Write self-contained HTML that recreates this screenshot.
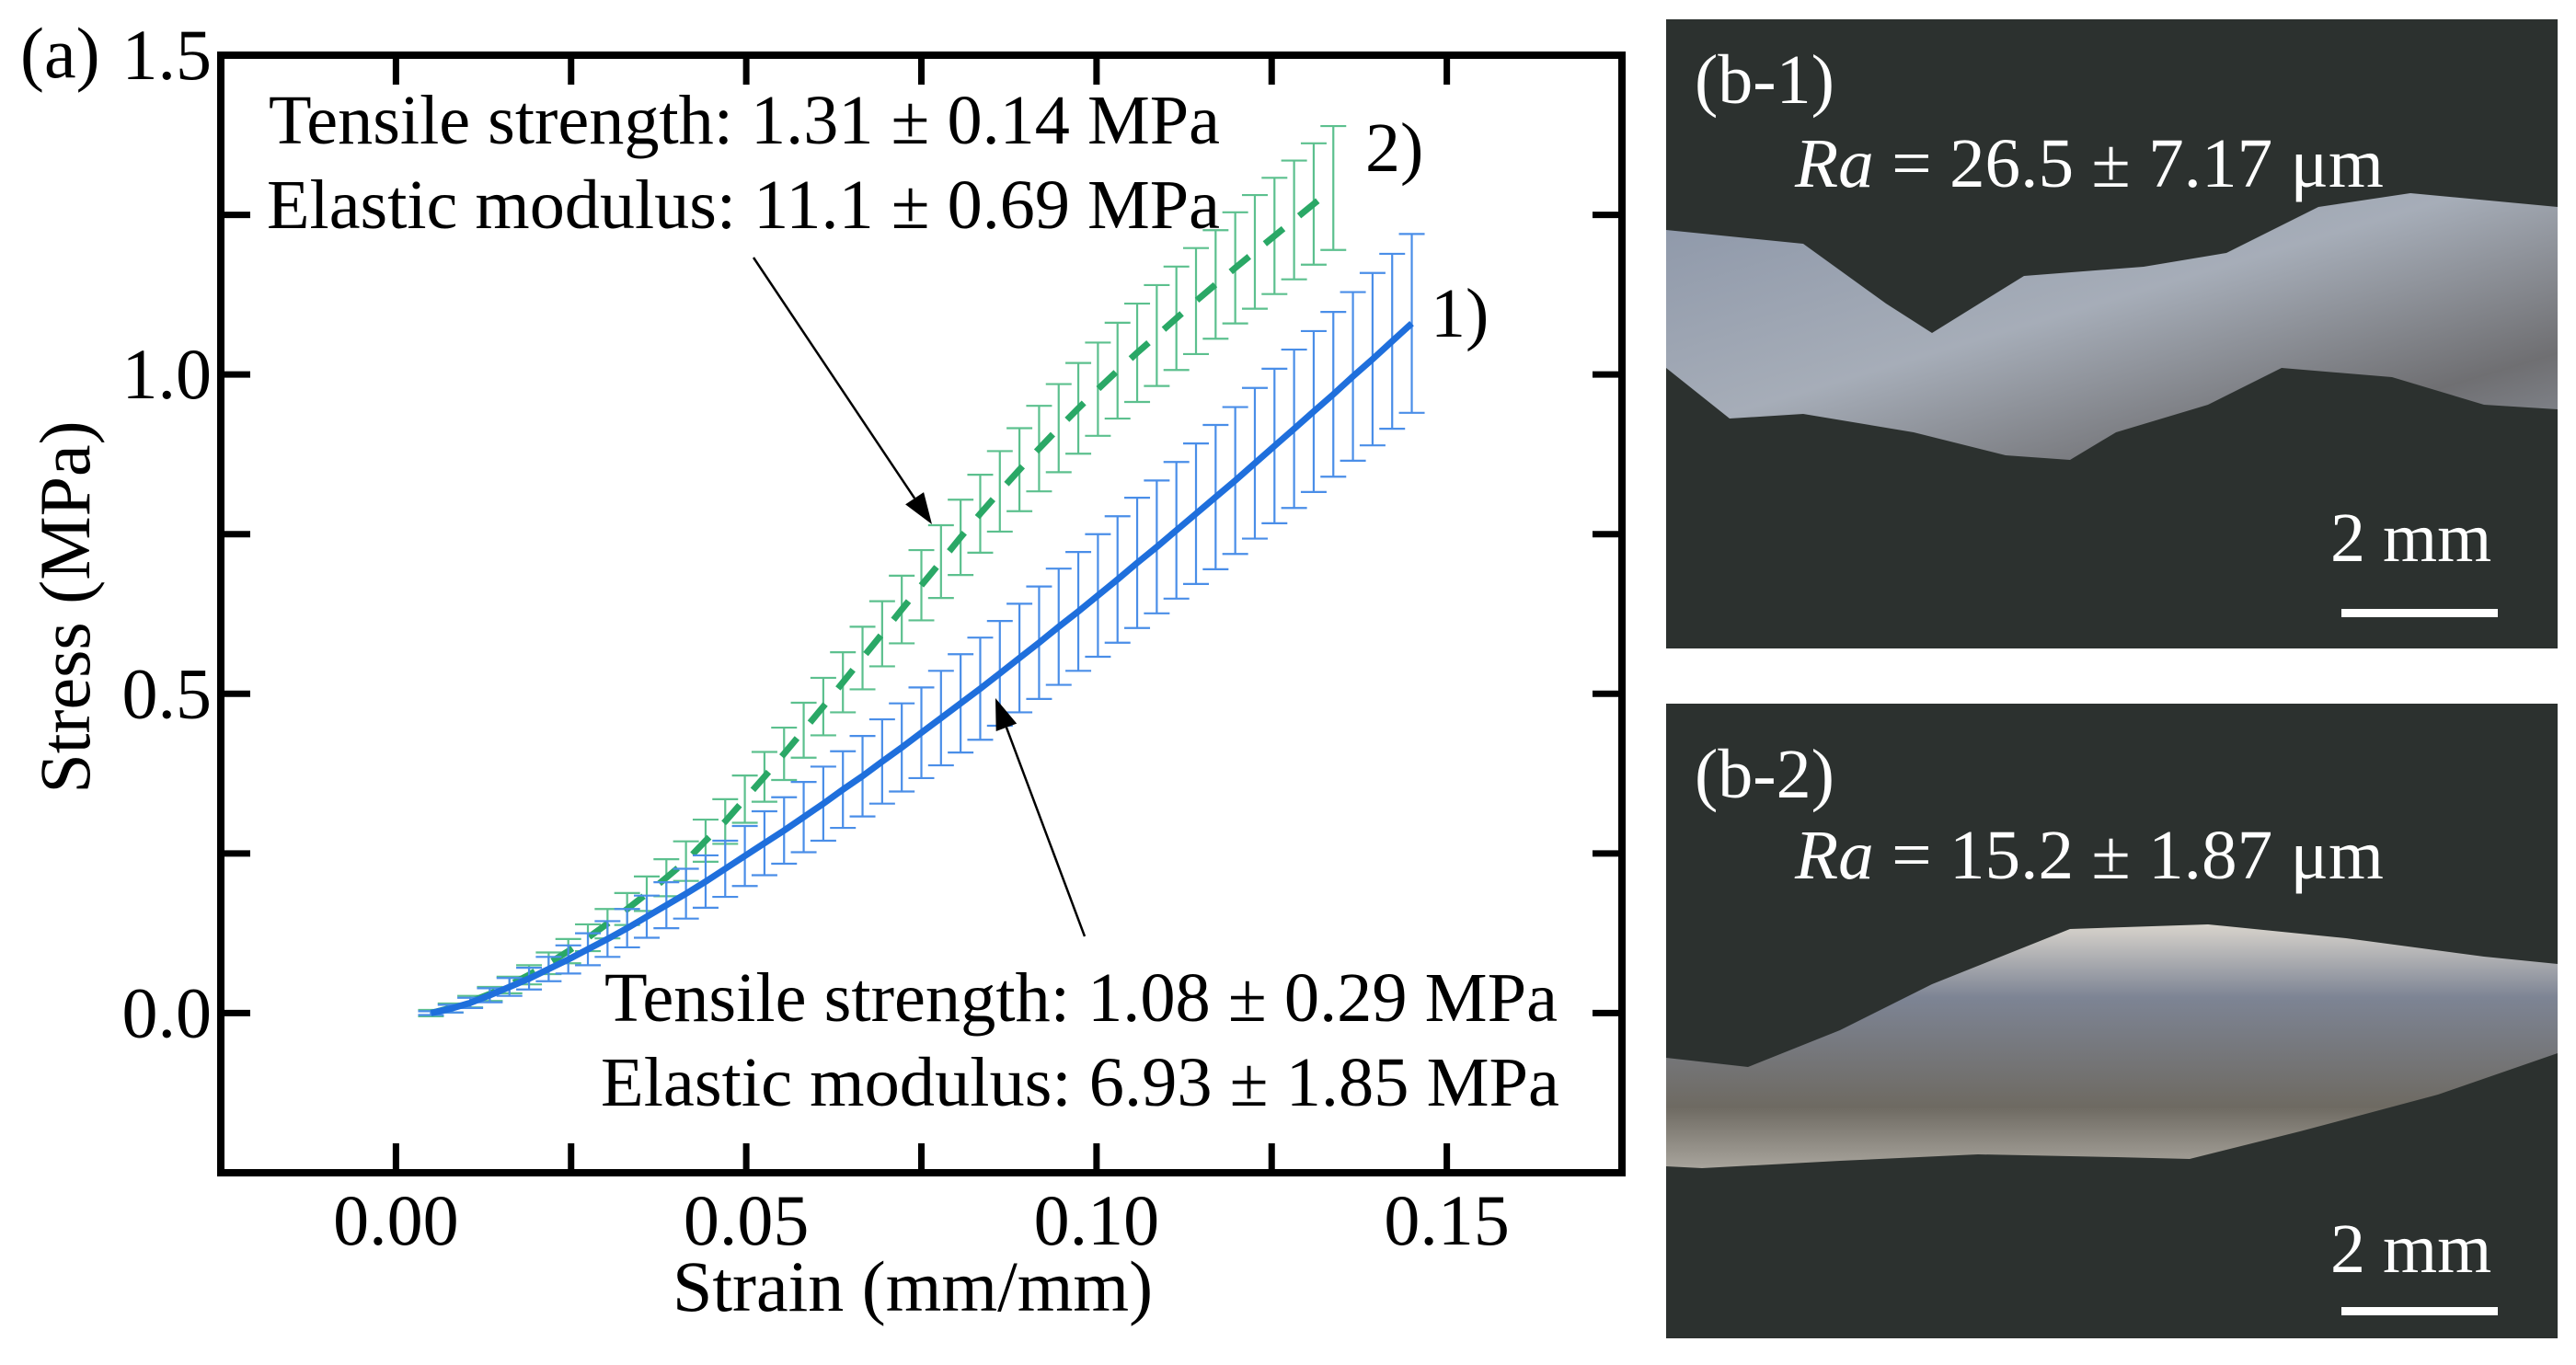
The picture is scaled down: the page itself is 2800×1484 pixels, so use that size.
<!DOCTYPE html>
<html><head><meta charset="utf-8">
<style>
html,body{margin:0;padding:0;background:#fff;}
svg{display:block;}
text{font-family:"Liberation Serif","DejaVu Serif",serif;}
</style></head>
<body>
<svg id="fig" width="2800" height="1484" viewBox="0 0 2800 1484" xmlns="http://www.w3.org/2000/svg">
  <defs>
    <linearGradient id="spec1" x1="0" y1="0" x2="1" y2="1">
      <stop offset="0" stop-color="#8c96a8"/><stop offset="0.45" stop-color="#a6adb8"/><stop offset="0.8" stop-color="#6f6f72"/><stop offset="1" stop-color="#8a8f98"/>
    </linearGradient>
    <linearGradient id="spec2" x1="0" y1="0" x2="0" y2="1">
      <stop offset="0" stop-color="#d8d4cc"/><stop offset="0.3" stop-color="#7d8494"/><stop offset="0.75" stop-color="#6e6a62"/><stop offset="1" stop-color="#a8a49c"/>
    </linearGradient>
  </defs>
  <g id="chart"></g>

  <g>
    <rect x="1811" y="21" width="969" height="684" fill="#2c312f"/>
    <polygon fill="url(#spec1)" points="1811,250 1960,265 2050,330 2100,362 2200,300 2330,290 2420,275 2520,225 2620,210 2780,225 2780,445 2700,440 2600,410 2480,400 2400,440 2300,470 2250,500 2180,495 2080,470 1960,450 1880,455 1811,400"/>
    <text x="1842" y="112" font-size="76" fill="#fff">(b-1)</text>
    <text x="1951" y="203" font-size="76" fill="#fff" textLength="640" lengthAdjust="spacingAndGlyphs"><tspan font-style="italic">Ra</tspan> = 26.5 ± 7.17 μm</text>
    <text x="2533" y="610" font-size="76" fill="#fff">2 mm</text>
    <rect x="2545" y="662" width="170" height="9" fill="#fff"/>
  </g>
  <g>
    <rect x="1811" y="765" width="969" height="690" fill="#2c312f"/>
    <polygon fill="url(#spec2)" points="1811,1150 1900,1160 2000,1120 2100,1070 2250,1010 2400,1005 2550,1020 2700,1040 2780,1048 2780,1145 2650,1190 2500,1230 2380,1260 2300,1258 2150,1255 2000,1262 1850,1270 1811,1268"/>
    <text x="1842" y="867" font-size="76" fill="#fff">(b-2)</text>
    <text x="1951" y="955" font-size="76" fill="#fff" textLength="640" lengthAdjust="spacingAndGlyphs"><tspan font-style="italic">Ra</tspan> = 15.2 ± 1.87 μm</text>
    <text x="2533" y="1383" font-size="76" fill="#fff">2 mm</text>
    <rect x="2545" y="1421" width="170" height="9" fill="#fff"/>
  </g>
</svg>
<script>
const xTicks = [0.00, 0.05, 0.10, 0.15];
const xTickLabels = ["0.00", "0.05", "0.10", "0.15"];
const yTicks = [0.0, 0.5, 1.0, 1.5];
const yTickLabels = ["0.0", "0.5", "1.0", "1.5"];
const xStep = 0.0028;
const blueY = [0,.007,.016,.028,.041,.054,.069,.084,.100,.116,.133,.151,.169,.187,.206,.226,.246,.266,.286,.307,.328,.350,.371,.394,.416,.439,.462,.485,.508,.532,.556,.580,.605,.629,.654,.679,.705,.730,.756,.782,.808,.834,.861,.888,.915,.942,.969,.997,1.024,1.052,1.08];
const blueErr = [.003,.006,.008,.011,.014,.017,.019,.022,.025,.028,.030,.033,.036,.039,.041,.044,.047,.050,.052,.055,.058,.060,.063,.066,.069,.071,.074,.077,.080,.082,.085,.088,.091,.093,.096,.099,.102,.104,.107,.110,.113,.115,.118,.121,.124,.126,.129,.132,.135,.137,.140];
const greenY = [0,.008,.018,.03,.044,.06,.078,.097,.118,.14,.163,.187,.212,.238,.27,.30,.335,.37,.406,.443,.48,.518,.556,.594,.632,.67,.707,.745,.782,.817,.851,.884,.916,.947,.977,1.006,1.034,1.061,1.088,1.115,1.141,1.167,1.192,1.217,1.242,1.267,1.292];
const greenErr = [.005,.007,.009,.011,.013,.015,.017,.019,.021,.023,.025,.027,.029,.031,.033,.035,.037,.039,.041,.043,.045,.047,.049,.051,.053,.055,.057,.059,.061,.063,.065,.067,.069,.071,.073,.075,.077,.079,.081,.083,.085,.087,.089,.091,.093,.095,.097];
const xStart = 0.005;

const L=240, R=1763, T=60, B=1275;
const XMIN=-0.025, XMAX=0.175, YMIN=-0.25, YMAX=1.5;
function sx(v){return L+(v-XMIN)/(XMAX-XMIN)*(R-L);}
function sy(v){return B-(v-YMIN)/(YMAX-YMIN)*(B-T);}
const NS="http://www.w3.org/2000/svg";
const g=document.getElementById('chart');
function mk(tag,attrs,parent){const e=document.createElementNS(NS,tag);for(const k in attrs)e.setAttribute(k,attrs[k]);(parent||g).appendChild(e);return e;}

function drawSeries(ys, errs, color, barColor, name, dash){
  const grp=mk('g',{});
  
  
  let d='';
  ys.forEach((y,i)=>{
    const x=xStart+i*xStep, px=sx(x), yt=sy(y+errs[i]), yb=sy(y-errs[i]);
    const eb=mk('path',{d:`M${px},${yt}V${yb}M${px-14},${yt}H${px+14}M${px-14},${yb}H${px+14}`,stroke:barColor,'stroke-width':2.2,fill:'none'},grp);
    
    
    d+=(i?'L':'M')+px.toFixed(1)+','+sy(y).toFixed(1);
  });
  const ln=mk('path',{d:d,stroke:color,'stroke-width':7,fill:'none','stroke-dasharray':dash||'none'},grp);
  
  
}
drawSeries(greenY, greenErr, '#2aa866', '#5cc08e', 'sample-2', '26 22');
drawSeries(blueY, blueErr, '#1f6fdc', '#4a8ee8', 'sample-1');

const fr=mk('rect',{x:L,y:T,width:R-L,height:B-T,fill:'none',stroke:'#000','stroke-width':8});


for(let v=-0.025; v<=0.1751; v+=0.025){
  const px=sx(v);
  const t=mk('path',{d:`M${px},${B}v-32M${px},${T}v32`,stroke:'#000','stroke-width':7});
  
  
}
for(let v=-0.25; v<=1.501; v+=0.25){
  const py=sy(v);
  const t=mk('path',{d:`M${L},${py}h32M${R},${py}h-32`,stroke:'#000','stroke-width':7});
  
  
}
xTicks.forEach((v,i)=>{
  const t=mk('text',{x:sx(v),y:1353,'font-size':78,'text-anchor':'middle'});
  t.textContent=xTickLabels[i];
  
  
});
yTicks.forEach((v,i)=>{
  const t=mk('text',{x:230,y:sy(v)+26,'font-size':78,'text-anchor':'end'});
  t.textContent=yTickLabels[i];
  
  
});
function label(txt,attrs,name){const t=mk('text',attrs);t.textContent=txt;return t;}
label('Strain (mm/mm)',{x:992,y:1425,'font-size':78,'text-anchor':'middle'},'x-axis-title');
label('Stress (MPa)',{x:0,y:0,'font-size':78,'text-anchor':'middle',transform:'translate(97,660) rotate(-90)'},'y-axis-title');
label('(a)',{x:22,y:84,'font-size':78},'panel-label-a');
label('Tensile strength: 1.31 ± 0.14 MPa',{x:292,y:156,'font-size':76,textLength:1034,lengthAdjust:'spacingAndGlyphs'},'annotation-2-strength');
label('Elastic modulus: 11.1 ± 0.69 MPa',{x:290,y:248,'font-size':76,textLength:1036,lengthAdjust:'spacingAndGlyphs'},'annotation-2-modulus');
label('Tensile strength: 1.08 ± 0.29 MPa',{x:657,y:1110,'font-size':76,textLength:1036,lengthAdjust:'spacingAndGlyphs'},'annotation-1-strength');
label('Elastic modulus: 6.93 ± 1.85 MPa',{x:653,y:1202,'font-size':76,textLength:1042,lengthAdjust:'spacingAndGlyphs'},'annotation-1-modulus');
label('2)',{x:1484,y:186,'font-size':76},'series-2-label');
label('1)',{x:1555,y:366,'font-size':76},'series-1-label');
function arrow(x1,y1,x2,y2,name){
  const a=mk('g',{});
  
  
  const ang=Math.atan2(y2-y1,x2-x1), h=34, w=12;
  const bx=x2-h*Math.cos(ang), by=y2-h*Math.sin(ang);
  mk('line',{x1:x1,y1:y1,x2:bx,y2:by,stroke:'#000','stroke-width':2.5},a);
  mk('polygon',{points:`${x2},${y2} ${bx+w*Math.sin(ang)},${by-w*Math.cos(ang)} ${bx-w*Math.sin(ang)},${by+w*Math.cos(ang)}`,fill:'#000'},a);
}
arrow(819,280,1013,570,'arrow-to-sample-2');
arrow(1179,1018,1082,759,'arrow-to-sample-1');
</script>
</body></html>
